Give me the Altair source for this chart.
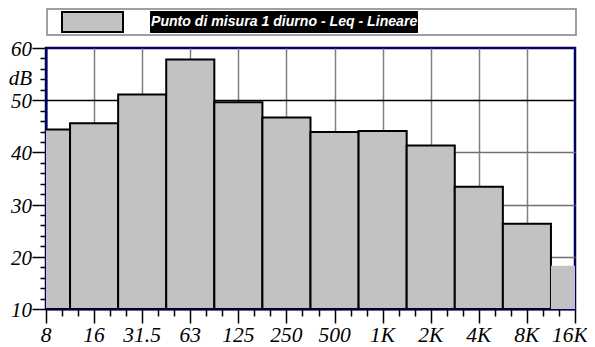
import altair as alt
import pandas as pd

labels = ["8", "16", "31.5", "63", "125", "250", "500", "1K", "2K", "4K", "8K", "16K"]
values = [44.4, 45.6, 51.1, 57.8, 49.6, 46.7, 43.9, 44.1, 41.3, 33.4, 26.35, 18.3]
y_label_vals = [10, 20, 30, 40, 50, 60, 54.5]
y_label_txt = ["10", "20", "30", "40", "50", "60", "dB"]
legend_text = "Punto di misura 1 diurno - Leq - Lineare"

df = pd.DataFrame({
    "idx": list(range(len(labels))),
    "band": labels,
    "value": values,
})
df["x0"] = df["idx"] - 0.5
df["x1"] = df["idx"] + 0.5
df["base"] = 10
ydf = pd.DataFrame({"v": y_label_vals, "t": y_label_txt})

n = len(labels) - 1
x_major = "abs(datum.value - round(datum.value)) < 0.01"
serif = "Liberation Serif"

x_axis = alt.Axis(
    values=[i / 3 for i in range(3 * n + 1)],
    labels=False,
    tickSize={"condition": {"test": x_major, "value": 14}, "value": 7},
    gridOpacity={"condition": {"test": f"{x_major} && datum.value > 0.5 && datum.value < {n - 0.5}", "value": 1}, "value": 0},
    gridColor="#808080",
    gridWidth=1.5,
    tickColor="black",
    tickWidth=1.5,
    domainColor="#000066",
    domainWidth=2,
    title=None,
)

y_major = "datum.value % 10 == 0"
y_axis = alt.Axis(
    values=list(range(10, 61, 2)),
    labels=False,
    tickSize={"condition": {"test": y_major, "value": 14}, "value": 6},
    gridOpacity={"condition": {"test": f"{y_major} && datum.value > 10 && datum.value < 60", "value": 1}, "value": 0},
    gridColor={"condition": {"test": "datum.value == 50", "value": "#000000"}, "value": "#707070"},
    gridWidth=1.5,
    tickColor="black",
    tickWidth=1.5,
    domainColor="#000066",
    domainWidth=2,
    title=None,
)

x_scale = alt.Scale(domain=[0, n], nice=False, zero=False)
y_scale = alt.Scale(domain=[10, 60], nice=False, zero=False)

bars = alt.Chart(df).mark_rect(clip=True, fill="#c2c2c2", stroke="black").encode(
    x=alt.X("x0:Q", scale=x_scale, axis=x_axis),
    x2="x1:Q",
    y=alt.Y("value:Q", scale=y_scale, axis=y_axis),
    y2="base:Q",
    strokeWidth=alt.condition(alt.datum.idx == n, alt.value(0), alt.value(2)),
)

xlab_base = alt.Chart(df)
xlab_style = dict(font=serif, fontStyle="italic", fontSize=21.5, baseline="alphabetic", align="center", color="black")
xlab = xlab_base.mark_text(**xlab_style).encode(
    x=alt.X("idx:Q", scale=x_scale, axis=x_axis), y=alt.value(294), text="band:N"
).transform_filter(alt.datum.idx < n)
xlab_last = xlab_base.mark_text(dx=-5, **xlab_style).encode(
    x=alt.X("idx:Q", scale=x_scale, axis=x_axis), y=alt.value(294), text="band:N"
).transform_filter(alt.datum.idx == n)

ylab = alt.Chart(ydf).mark_text(
    font=serif, fontStyle="italic", fontSize=21, baseline="middle", align="right", color="black", dy=2
).encode(x=alt.value(-14), y=alt.Y("v:Q", scale=y_scale, axis=y_axis), text="t:N")

leg = alt.Chart(pd.DataFrame({"t": [legend_text]}))
box = leg.mark_rect(fill="white", stroke="#808080", strokeWidth=1.5).encode(
    x=alt.value(1), x2=alt.value(530), y=alt.value(-39), y2=alt.value(-13)
)
swatch = leg.mark_rect(fill="#c2c2c2", stroke="black", strokeWidth=2).encode(
    x=alt.value(16), x2=alt.value(77), y=alt.value(-36), y2=alt.value(-16)
)
tbg = leg.mark_rect(fill="black").encode(
    x=alt.value(104), x2=alt.value(372), y=alt.value(-37), y2=alt.value(-15)
)
txt = leg.mark_text(
    align="left", baseline="middle", color="white", font="Liberation Sans",
    fontStyle="italic", fontWeight="bold", fontSize=14.1,
).encode(x=alt.value(105), y=alt.value(-26), text="t:N")

chart = alt.layer(bars, xlab, xlab_last, ylab, box, swatch, tbg, txt).properties(
    width=529, height=261,
    autosize=alt.AutoSizeParams(type="none"),
    padding={"left": 38, "top": 40, "right": 12, "bottom": 38},
).configure_view(stroke="#000066", strokeWidth=2.5)

chart.save("out.html", embed_options={"renderer": "svg", "actions": False})
